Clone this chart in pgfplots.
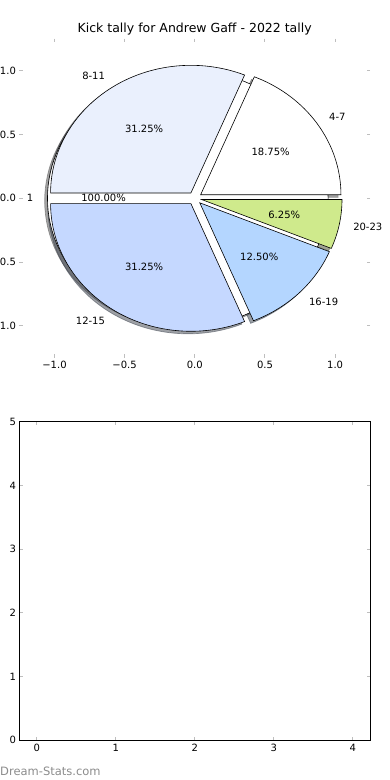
\documentclass[border=0pt]{standalone}
\usepackage{fontspec}
\setmainfont{DejaVu Sans}
\usepackage{pgfplots}
\usepackage{pgfplotstable}
\pgfplotsset{compat=1.18}

\definecolor{s0}{RGB}{255,255,255}
\definecolor{s1}{RGB}{234,240,253}
\definecolor{s2}{RGB}{197,216,255}
\definecolor{s3}{RGB}{180,214,255}
\definecolor{s4}{RGB}{207,234,140}
\definecolor{tickgray}{RGB}{190,190,190}
\definecolor{wm}{RGB}{140,140,140}

\newcommand\labfont{\fontsize{10}{12}\selectfont}
\newcommand\titlefont{\fontsize{12.5}{15}\selectfont}

% kick tally per quarter-time bracket
\pgfplotstableread{
label value pct
4-7   3 18.75
8-11  5 31.25
12-15 5 31.25
16-19 2 12.50
20-23 1 6.25
}\kicktable

% one pie wedge centred at (#1,#2), from angle #3 to #4, style #5
\newcommand\wedgeplot[5]{%
  \addplot[#5, samples at={-1,0,...,61}, variable=\t]
   ({#1+((\t<-0.5||\t>60.5)?0:cos(#3+(#4-#3)*\t/60))},
    {#2+((\t<-0.5||\t>60.5)?0:sin(#3+(#4-#3)*\t/60))}) -- cycle;
}

\begin{document}
\begin{tikzpicture}[font=\labfont]
\useasboundingbox (0,0) rectangle (390pt,780pt);

\begin{axis}[
  at={(19.4pt,422.1pt)}, anchor=south west,
  scale only axis, width=350.8pt, height=319.2pt,
  xmin=-1.25, xmax=1.25, ymin=-1.25, ymax=1.25,
  xtick={-1,-0.5,0,0.5,1}, xticklabels={−1.0,−0.5,0.0,0.5,1.0},
  ytick={-1,-0.5,0,0.5,1}, yticklabels={−1.0,−0.5,0.0,0.5,1.0},
  axis line style={draw=none},
  tick style={tickgray, line width=1pt},
  major tick length=3.5pt,
  tick label style={font=\labfont},
  clip=false,
]
% total of the tally
\gdef\total{0}
\pgfplotsforeachungrouped \i in {0,...,4}{%
  \pgfplotstablegetelem{\i}{value}\of\kicktable
  \pgfmathsetmacro\tt{\total+\pgfplotsretval}
  \xdef\total{\tt}
}
% shadows (drawn beneath everything)
\addplot[fill=white!30!black, draw=white!30!black, opacity=0.5, line width=0.7pt, domain=0:360, samples=121] ({-0.07+cos(x)},{-0.02+sin(x)}) -- cycle;
\gdef\cum{0}
\pgfplotsforeachungrouped \i in {0,...,4}{%
  \pgfplotstablegetelem{\i}{value}\of\kicktable
  \pgfmathsetmacro\va{\pgfplotsretval}
  \pgfmathsetmacro\a{\cum}
  \pgfmathsetmacro\b{\cum+360*\va/\total}
  \pgfmathsetmacro\m{(\a+\b)/2}
  \pgfmathsetmacro\cx{0.05*cos(\m)-0.02}
  \pgfmathsetmacro\cy{0.05*sin(\m)-0.02}
  \edef\doit{\noexpand\wedgeplot{\cx}{\cy}{\a}{\b}{fill=s\i!30!black, draw=s\i!30!black, opacity=0.5, line width=0.7pt}}%
  \doit
  \xdef\cum{\b}
}
% the single 100% wedge
\addplot[fill=white, draw=black, line width=0.6pt, domain=0:360, samples=121] ({-0.05+cos(x)},{sin(x)}) -- cycle;
\node[anchor=east, inner xsep=0pt] at (axis cs:-1.15,0) {1};
\node at (axis cs:-0.65,0) {100.00\%};
% the tally wedges
\gdef\cum{0}
\pgfplotsforeachungrouped \i in {0,...,4}{%
  \pgfplotstablegetelem{\i}{value}\of\kicktable
  \pgfmathsetmacro\va{\pgfplotsretval}
  \pgfplotstablegetelem{\i}{label}\of\kicktable
  \let\lab\pgfplotsretval
  \pgfplotstablegetelem{\i}{pct}\of\kicktable
  \let\pc\pgfplotsretval
  \pgfmathsetmacro\a{\cum}
  \pgfmathsetmacro\b{\cum+360*\va/\total}
  \pgfmathsetmacro\m{(\a+\b)/2}
  \pgfmathsetmacro\cx{0.05*cos(\m)}
  \pgfmathsetmacro\cy{0.05*sin(\m)}
  \pgfmathsetmacro\lx{1.15*cos(\m)}
  \pgfmathsetmacro\ly{1.15*sin(\m)}
  \pgfmathsetmacro\px{0.65*cos(\m)}
  \pgfmathsetmacro\py{0.65*sin(\m)}
  \pgfmathtruncatemacro\isright{\lx>0}
  \ifnum\isright=1 \def\anc{west}\else\def\anc{east}\fi
  \edef\doit{\noexpand\wedgeplot{\cx}{\cy}{\a}{\b}{fill=s\i, draw=black, line width=0.6pt}
    \noexpand\node[anchor=\anc, inner xsep=0pt] at (axis cs:\lx,\ly) {\lab};
    \noexpand\node at (axis cs:\px,\py) {\pc\noexpand\%};}%
  \doit
  \xdef\cum{\b}
}
\end{axis}

\begin{axis}[
  at={(19.4pt,39.7pt)}, anchor=south west,
  scale only axis, width=350.8pt, height=318.6pt,
  xmin=-0.22, xmax=4.22, ymin=0, ymax=5,
  xtick={0,1,2,3,4}, xticklabels={0,1,2,3,4},
  ytick={0,1,2,3,4,5}, yticklabels={0,1,2,3,4,5},
  axis line style={black, line width=0.8pt},
  tick style={tickgray, line width=1pt},
  major tick length=3.5pt,
  tick label style={font=\labfont},
]
\end{axis}

\node[font=\titlefont, anchor=base] at (194.7pt,747.5pt) {Kick tally for Andrew Gaff - 2022 tally};
\node[font=\fontsize{11.5}{13}\selectfont, text=wm, anchor=base west, inner sep=0pt] at (0pt,5pt) {Dream-Stats.com};
\end{tikzpicture}
\end{document}
